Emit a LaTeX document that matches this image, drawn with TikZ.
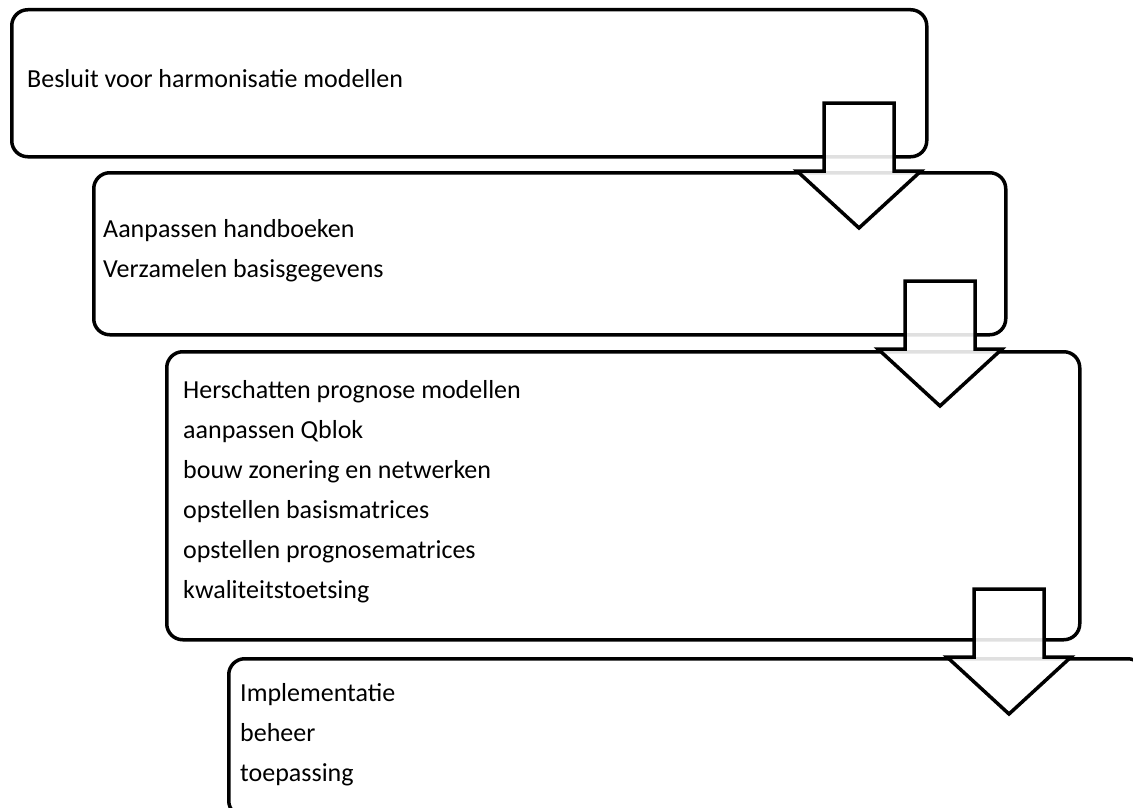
\documentclass[tikz,border=0pt]{standalone}
\usepackage{fontspec}
\setmainfont{Carlito}
\tikzset{
	box/.style={draw, line width=3.5pt, rounded corners=16pt, anchor=north west, inner sep=0pt},
	txt/.style={anchor=north west, align=left, inner sep=0pt, font=\fontsize{26}{40}\selectfont},
	blokpijl/.style={draw, line width=3.5pt, fill=white, fill opacity=0.88, line join=miter}
}
\begin{document}
	\begin{tikzpicture}[x=1pt, y=-1pt]
		\clip (0,0) rectangle (1133,808);

		% Blokken
		\node[box, minimum width=915, minimum height=147] (b1) at (10,8) {};
		\node[box, minimum width=912, minimum height=162] (b2) at (92,171) {};
		\node[box, minimum width=913, minimum height=288] (b3) at (165,350) {};
		\node[box, minimum width=915, minimum height=158] (b4) at (227,657) {};

		% Teksten
		\node[txt] (t1) at (27,69) {Besluit voor harmonisatie modellen};
		\node[txt] (t2) at (103,219) {Aanpassen handboeken\\Verzamelen basisgegevens};
		\node[txt] (t3) at (183,380) {Herschatten prognose modellen\\aanpassen Qblok\\bouw zonering en netwerken\\opstellen basismatrices\\opstellen prognosematrices\\kwaliteitstoetsing};
		\node[txt] (t4) at (240,683) {Implementatie\\beheer\\toepassing};

		% Pijlen tussen de blokken
		\foreach \cx/\ytop in {859/103, 940/281, 1009/589}
			\draw[blokpijl] (\cx-35,\ytop) -- (\cx+35,\ytop) -- (\cx+35,\ytop+68) -- (\cx+62,\ytop+68)
				-- (\cx,\ytop+125) -- (\cx-62,\ytop+68) -- (\cx-35,\ytop+68) -- cycle;
	\end{tikzpicture}
\end{document}
